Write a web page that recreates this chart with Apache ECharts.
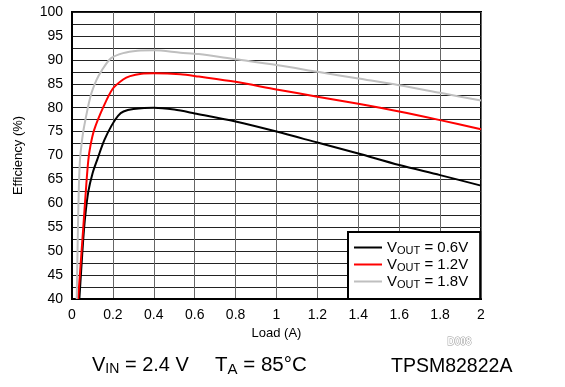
<!DOCTYPE html>
<html>
<head>
<meta charset="utf-8">
<script src="https://cdn.jsdelivr.net/npm/echarts@6/dist/echarts.min.js"></script>
<style>html,body{margin:0;padding:0;background:#fff;}#c{width:565px;height:387px;}</style>
</head>
<body>
<div id="c"></div>
<script>
var seriesNames = ['V_OUT = 0.6V', 'V_OUT = 1.2V', 'V_OUT = 1.8V'];
var load06 = [0.036, 0.045, 0.055, 0.065, 0.08, 0.1, 0.124, 0.158, 0.194, 0.225, 0.252, 0.3, 0.4, 0.5, 0.6, 0.8, 1.0, 1.2, 1.4, 1.6, 1.8, 2.0];
var eff06  = [40, 46, 52.5, 57.5, 62.5, 66.2, 69.2, 73.2, 76.3, 78.3, 79.2, 79.7, 80.0, 79.6, 78.8, 77.1, 75.0, 72.7, 70.4, 68.0, 65.9, 63.7];
var load12 = [0.03, 0.056, 0.07, 0.08, 0.09, 0.108, 0.154, 0.2, 0.25, 0.284, 0.34, 0.4, 0.53, 0.62, 0.8, 1.0, 1.2, 1.4, 1.6, 1.8, 2.0];
var eff12  = [40, 55.5, 64, 69.1, 72, 75.3, 80.2, 84.0, 85.9, 86.6, 87.1, 87.2, 87.0, 86.5, 85.4, 83.8, 82.3, 80.8, 79.2, 77.4, 75.5];
var load18 = [0.023, 0.03, 0.034, 0.039, 0.047, 0.059, 0.09, 0.12, 0.146, 0.19, 0.25, 0.32, 0.4, 0.53, 0.62, 0.8, 1.0, 1.2, 1.4, 1.6, 1.8, 2.0];
var eff18  = [40, 57, 64, 69.1, 72.5, 76, 82.3, 85.8, 87.8, 90.3, 91.4, 91.9, 92.0, 91.5, 91.2, 90.1, 88.9, 87.5, 86.1, 84.7, 83.1, 81.5];
var colors = ['#000000', '#ff0000', '#bfbfbf'];

function zip(xs, ys) { return xs.map(function (x, i) { return [x, ys[i]]; }); }
var FONT = 'Liberation Sans, Arial, sans-serif';

var chart = echarts.init(document.getElementById('c'), null, {renderer: 'canvas'});
var datasets = [zip(load06, eff06), zip(load12, eff12), zip(load18, eff18)];

var subRich = function (big, small, pad) {
  return {
    v: {fontSize: big, fill: '#000', color: '#000', lineHeight: big + 3, fontFamily: FONT},
    s: {fontSize: small, fill: '#000', color: '#000', lineHeight: big + 3, verticalAlign: 'bottom', padding: [pad, 0, 0, 0], fontFamily: FONT}
  };
};

chart.setOption({
  animation: false,
  backgroundColor: '#fff',
  textStyle: {fontFamily: FONT},
  grid: {left: 72, top: 12, right: 84, bottom: 88, show: true, borderColor: '#000', borderWidth: 2, backgroundColor: 'transparent'},
  xAxis: {
    type: 'value', min: 0, max: 2, interval: 0.2,
    name: 'Load (A)', nameLocation: 'middle', nameGap: 21,
    nameTextStyle: {fontSize: 13, color: '#000', fontFamily: FONT},
    axisLine: {show: true, lineStyle: {color: '#000', width: 2}},
    axisTick: {show: false},
    axisLabel: {fontSize: 14, color: '#000', margin: 9, fontFamily: FONT},
    splitLine: {show: true, lineStyle: {color: '#666', width: 1}}
  },
  yAxis: {
    type: 'value', min: 40, max: 100, interval: 5,
    name: 'Efficiency (%)', nameLocation: 'middle', nameGap: 47,
    nameTextStyle: {fontSize: 13, color: '#000', fontFamily: FONT},
    axisLine: {show: true, lineStyle: {color: '#000', width: 2}},
    axisTick: {show: false},
    minorTick: {show: false, splitNumber: 2},
    axisLabel: {fontSize: 14, color: '#000', margin: 9, fontFamily: FONT},
    splitLine: {show: true, lineStyle: {color: '#222', width: 1}},
    minorSplitLine: {show: true, lineStyle: {color: '#222', width: 1}}
  },
  legend: {
    show: true, orient: 'vertical', left: 348, top: 232,
    padding: [8, 12, 9, 6], itemGap: 1,
    backgroundColor: '#fff', borderColor: '#000', borderWidth: 2,
    icon: 'rect', itemWidth: 28, itemHeight: 2,
    data: seriesNames,
    formatter: function (n) {
      var parts = n.split(' = ');
      return '{v|V}{s|OUT}{v| = ' + parts[1] + '}';
    },
    textStyle: {
      fontFamily: FONT,
      rich: {
        v: {fontSize: 15, color: '#000', fontFamily: FONT, lineHeight: 17},
        s: {fontSize: 11, color: '#000', fontFamily: FONT, lineHeight: 17, verticalAlign: 'bottom', padding: [5, 0, 0, 0]}
      }
    }
  },
  series: datasets.map(function (d, i) {
    return {
      name: seriesNames[i], type: 'line', data: d, showSymbol: false, symbol: 'none',
      smooth: 0.3, lineStyle: {color: colors[i], width: 2}, itemStyle: {color: colors[i]}, z: 3
    };
  }),
  graphic: [
    {type: 'text', left: 447, top: 337, style: {text: 'D008', fontSize: 10, fontWeight: 'bold', fill: '#fff', stroke: '#999', lineWidth: 1, fontFamily: FONT}},
    {type: 'text', left: 92, top: 355, style: {text: '{v|V}{s|IN}{v| = 2.4 V}', fontFamily: FONT, rich: subRich(20, 14, 7)}},
    {type: 'text', left: 215, top: 355, style: {text: '{v|T}{s|A}{v| = 85°C}', fontFamily: FONT, rich: subRich(20.5, 15, 7)}},
    {type: 'text', left: 391, top: 355, style: {text: 'TPSM82822A', fontSize: 19.5, fill: '#000', fontFamily: FONT, lineHeight: 23}}
  ]
});
</script>
</body>
</html>
